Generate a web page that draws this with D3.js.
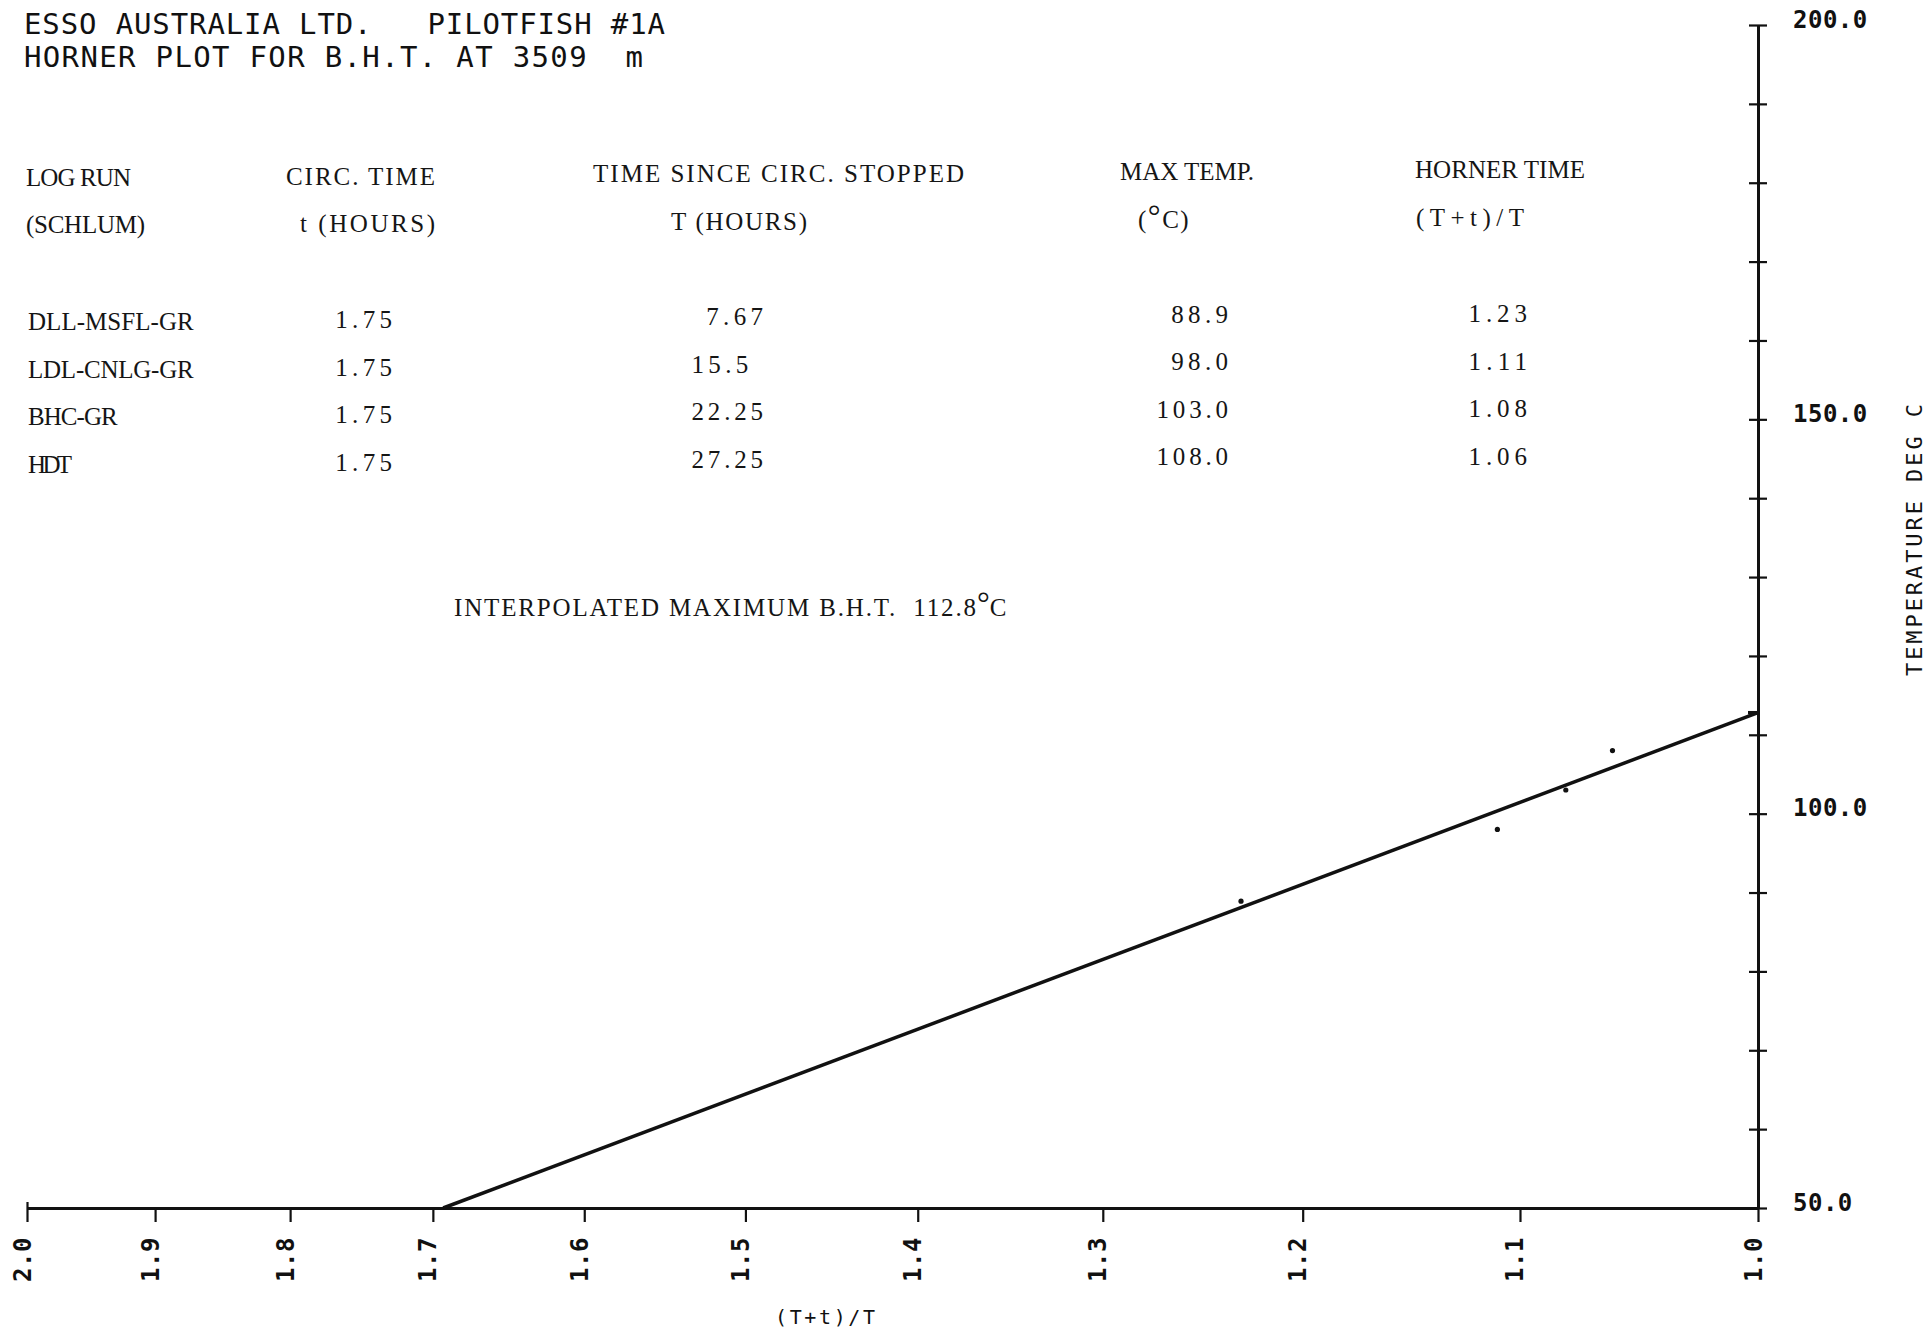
<!DOCTYPE html>
<html>
<head>
<meta charset="utf-8">
<script src="https://cdn.jsdelivr.net/npm/d3@7"></script>
<style>
  body { margin: 0; background: #fff; }
  svg { display: block; background: #fff; }
  .plotter { font-family: "DejaVu Sans Mono", monospace; fill: #111; white-space: pre; }
  .ticklab { font-family: "DejaVu Sans Mono", monospace; font-weight: bold; font-size: 24px;
             letter-spacing: 0.5px; fill: #111; font-feature-settings: "zero" 1; }
  .typed { font-family: "Liberation Serif", serif; font-size: 25px; fill: #151515; white-space: pre; }
</style>
</head>
<body>
<div class="chart"></div>
<script>
// Data
//= ================================
var logRuns = ["DLL-MSFL-GR", "LDL-CNLG-GR", "BHC-GR", "HDT"];
var circTimes = [1.75, 1.75, 1.75, 1.75];
var sinceStopped = ["7.67", "15.5", "22.25", "27.25"];
var maxTemps = [88.9, 98.0, 103.0, 108.0];
var hornerTimes = [1.23, 1.11, 1.08, 1.06];

// fitted line: extrapolated B.H.T. at (T+t)/T = 1, and where it meets the 50 deg axis
var fitHorner = [1.0, 1.693];
var fitTemp = [112.8, 50.0];
var interpolatedBHT = 112.8;

var xTicks = [2.0, 1.9, 1.8, 1.7, 1.6, 1.5, 1.4, 1.3, 1.2, 1.1, 1.0];
var yTicks = [50, 60, 70, 80, 90, 100, 110, 120, 130, 140, 150, 160, 170, 180, 190, 200];
var yLabels = [50, 100, 150, 200];

// Set up the page
//= ================================
var svgWidth = 1930;
var svgHeight = 1332;

var svg = d3
  .select(".chart")
  .append("svg")
  .attr("width", svgWidth)
  .attr("height", svgHeight);

// Horner time is plotted on a reversed log scale, 1.0 at the right
var xScale = d3.scaleLog().domain([1, 2]).range([1758, 27]);
var yScale = d3.scaleLinear().domain([50, 200]).range([1208, 25]);

// x axis
var bottomAxis = d3
  .axisBottom(xScale)
  .tickValues(xTicks)
  .tickSize(14)
  .tickSizeOuter(0)
  .tickFormat(d3.format(".1f"));

var gx = svg.append("g").attr("transform", "translate(0,1208)").call(bottomAxis);
gx.select(".domain").attr("stroke", "#111").attr("stroke-width", 3);
gx.selectAll(".tick line").attr("stroke", "#111").attr("stroke-width", 2.2);
gx.selectAll(".tick line").filter(function(d) { return d === 2.0; }).attr("y1", -6);
gx.selectAll(".tick text")
  .attr("class", "ticklab")
  .attr("transform", "rotate(-90)")
  .attr("x", -74)
  .attr("y", 3)
  .attr("dy", 0)
  .attr("text-anchor", "start");

// y axis on the right, ticks cross the line
var rightAxis = d3
  .axisRight(yScale)
  .tickValues(yTicks)
  .tickSize(9)
  .tickSizeOuter(0)
  .tickFormat(function(d) {
    return yLabels.indexOf(d) >= 0 ? d3.format(".1f")(d) : "";
  });

var gy = svg.append("g").attr("transform", "translate(1758,0)").call(rightAxis);
gy.select(".domain").attr("stroke", "#111").attr("stroke-width", 3);
gy.selectAll(".tick line").attr("x1", -9).attr("x2", 9).attr("stroke", "#111").attr("stroke-width", 2.2);
gy.selectAll(".tick text")
  .attr("class", "ticklab")
  .attr("x", 35)
  .attr("y", 2)
  .attr("dy", 0)
  .attr("text-anchor", "start");

// stub marking the interpolated temperature on the axis
gy.append("line")
  .attr("x1", -10)
  .attr("x2", 0)
  .attr("y1", yScale(interpolatedBHT))
  .attr("y2", yScale(interpolatedBHT))
  .attr("stroke", "#111")
  .attr("stroke-width", 3.5);

// fitted line
var fitData = fitHorner.map(function(h, i) { return { h: h, t: fitTemp[i] }; });
var line = d3.line()
  .x(function(d) { return xScale(d.h); })
  .y(function(d) { return yScale(d.t); });

svg.append("path")
  .datum(fitData)
  .attr("d", line)
  .attr("fill", "none")
  .attr("stroke", "#111")
  .attr("stroke-width", 3.5);

// measured points
svg.selectAll("circle.pt")
  .data(hornerTimes)
  .enter()
  .append("circle")
  .attr("class", "pt")
  .attr("cx", function(d) { return xScale(d); })
  .attr("cy", function(d, i) { return yScale(maxTemps[i]); })
  .attr("r", 2.6)
  .attr("fill", "#111");

// axis titles
svg.append("text")
  .attr("class", "plotter")
  .attr("x", 775)
  .attr("y", 1324)
  .attr("font-size", 20)
  .attr("textLength", 100)
  .attr("lengthAdjust", "spacing")
  .text("(T+t)/T");

svg.append("text")
  .attr("class", "plotter")
  .attr("transform", "translate(1922,540) rotate(-90)")
  .attr("text-anchor", "middle")
  .attr("font-size", 22)
  .attr("textLength", 272)
  .attr("lengthAdjust", "spacing")
  .text("TEMPERATURE DEG C");

// plotter heading
svg.append("text")
  .attr("class", "plotter")
  .attr("x", 24)
  .attr("y", 34)
  .attr("font-size", 29)
  .attr("textLength", 641)
  .attr("lengthAdjust", "spacing")
  .text("ESSO AUSTRALIA LTD.   PILOTFISH #1A");

svg.append("text")
  .attr("class", "plotter")
  .attr("x", 24)
  .attr("y", 67)
  .attr("font-size", 29)
  .attr("textLength", 619)
  .attr("lengthAdjust", "spacing")
  .text("HORNER PLOT FOR B.H.T. AT 3509  m");

// typed table
function typed(x, y, str, len, anchor) {
  var t = svg.append("text")
    .attr("class", "typed")
    .attr("x", x)
    .attr("y", y)
    .text(str);
  if (len) t.attr("textLength", len).attr("lengthAdjust", "spacing");
  if (anchor) t.attr("text-anchor", anchor);
  return t;
}

// header rows
typed(26, 186, "LOG RUN", 105);
typed(26, 233, "(SCHLUM)", 119);
typed(286, 185, "CIRC. TIME", 149);
typed(300, 232, "t (HOURS)", 135);
typed(593, 182, "TIME SINCE CIRC. STOPPED", 371);
typed(671, 230, "T (HOURS)", 136);
typed(1120, 180, "MAX TEMP.", 134);
typed(1415, 178, "HORNER TIME", 170);
typed(1416, 226, "(T+t)/T", 108);

var degHead = svg.append("text").attr("class", "typed").attr("x", 1138).attr("y", 228)
  .attr("letter-spacing", 1.5);
degHead.append("tspan").text("(");
degHead.append("tspan").attr("font-size", 32).attr("dy", -1).text("\u00B0");
degHead.append("tspan").attr("dy", 1).text("C)");

// rows, the typed page is slightly skewed so each column has its own start
var rowGap = 47.7;
var pitch = 15.2;
var numPitch = 14.7;

logRuns.forEach(function(d, i) {
  typed(28, 330 + i * rowGap, d, d.length * pitch - 1.5);
});
circTimes.forEach(function(d, i) {
  var s = d3.format(".2f")(d);
  typed(392, 328 + i * rowGap, s, s.length * numPitch - 2, "end");
});
sinceStopped.forEach(function(s, i) {
  // decimal aligned on two places
  var decimals = s.split(".")[1].length;
  typed(763 - (2 - decimals) * numPitch, 325 + i * rowGap, s, s.length * numPitch - 2, "end");
});
maxTemps.forEach(function(d, i) {
  var s = d3.format(".1f")(d);
  typed(1228, 323 + i * 47.3, s, s.length * numPitch - 2, "end");
});
hornerTimes.forEach(function(d, i) {
  var s = d3.format(".2f")(d);
  typed(1527, 322 + i * 47.7, s, s.length * 15.1 - 2, "end");
});

// interpolated result
typed(454, 616, "INTERPOLATED MAXIMUM B.H.T.  " + d3.format(".1f")(interpolatedBHT), 522);
var degNote = svg.append("text").attr("class", "typed").attr("x", 977).attr("y", 616);
degNote.append("tspan").attr("font-size", 32).attr("dy", -2).text("\u00B0");
degNote.append("tspan").attr("dy", 2).text("C");
</script>
</body>
</html>
